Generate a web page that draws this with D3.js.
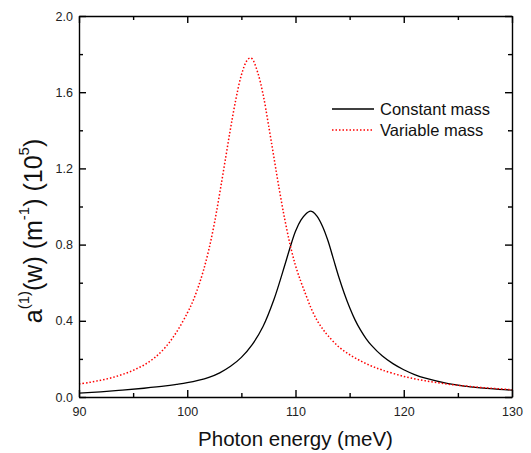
<!DOCTYPE html>
<html lang="en">
<head>
    <meta charset="UTF-8">
    <title>Absorption coefficient</title>
    <script src="https://cdn.jsdelivr.net/npm/d3@7/dist/d3.min.js"></script>
    <style>
        body { margin: 0; background: #fff; }
        text { font-family: "Liberation Sans", Arial, sans-serif; }
    </style>
</head>
<body>
    <svg id="chart" width="531" height="453"></svg>
    <script>
        // data
        var constE = [90, 92, 94, 96, 98, 99, 100, 101, 102, 103, 104, 105, 106, 107, 108, 109, 109.5, 110, 110.5, 111, 111.3, 111.6, 112, 112.5, 113, 113.5, 114, 114.5, 115, 115.5, 116, 116.5, 117, 118, 119, 120, 121, 122, 124, 126, 128, 130];
        var constA = [0.020, 0.027, 0.036, 0.046, 0.058, 0.066, 0.075, 0.087, 0.103, 0.127, 0.161, 0.208, 0.275, 0.37, 0.51, 0.69, 0.785, 0.87, 0.928, 0.963, 0.975, 0.972, 0.948, 0.895, 0.82, 0.725, 0.63, 0.545, 0.47, 0.405, 0.352, 0.308, 0.272, 0.216, 0.175, 0.143, 0.118, 0.099, 0.072, 0.055, 0.044, 0.036];

        var varE = [90, 91, 92, 93, 94, 95, 96, 97, 98, 99, 100, 100.5, 101, 101.5, 102, 102.5, 103, 103.5, 104, 104.5, 105, 105.5, 105.8, 106, 106.5, 107, 107.5, 108, 108.5, 109, 109.5, 110, 110.5, 111, 111.5, 112, 112.5, 113, 114, 115, 116, 117, 118, 120, 122, 124, 126, 128, 130];
        var varA = [0.068, 0.077, 0.088, 0.101, 0.118, 0.14, 0.168, 0.207, 0.262, 0.34, 0.44, 0.50, 0.575, 0.665, 0.775, 0.91, 1.07, 1.24, 1.41, 1.565, 1.69, 1.765, 1.78, 1.775, 1.705, 1.59, 1.43, 1.26, 1.09, 0.935, 0.80, 0.69, 0.605, 0.53, 0.458, 0.402, 0.358, 0.322, 0.263, 0.222, 0.19, 0.163, 0.142, 0.108, 0.085, 0.068, 0.056, 0.046, 0.038];

        var xMajor = [90, 100, 110, 120, 130];
        var xMinor = [95, 105, 115, 125];
        var yMajor = [0.0, 0.4, 0.8, 1.2, 1.6, 2.0];
        var yMinor = [0.2, 0.6, 1.0, 1.4, 1.8];
        var seriesNames = ["Constant mass", "Variable mass"];

        var svg = d3.select("#chart"),
            margin = { top: 16, right: 19, bottom: 56, left: 79 },
            width = +svg.attr("width") - margin.left - margin.right,
            height = +svg.attr("height") - margin.top - margin.bottom,
            g = svg.append("g").attr("transform", "translate(" + margin.left + "," + margin.top + ")");

        var x = d3.scaleLinear().domain([90, 130]).range([0, width]);
        var y = d3.scaleLinear().domain([0, 2.0]).range([height, 0]);

        var line = d3.line()
            .x(function (d) { return x(d[0]); })
            .y(function (d) { return y(d[1]); })
            .curve(d3.curveCatmullRom);

        var constData = constE.map(function (e, i) { return [e, constA[i]]; });
        var varData = varE.map(function (e, i) { return [e, varA[i]]; });

        // curves
        g.append("path")
            .datum(constData)
            .attr("fill", "none")
            .attr("stroke", "#000")
            .attr("stroke-width", 1.3)
            .attr("d", line);

        g.append("path")
            .datum(varData)
            .attr("fill", "none")
            .attr("stroke", "#ff0000")
            .attr("stroke-width", 1.5)
            .attr("stroke-dasharray", "1.5,2")
            .attr("d", line);

        // axes with inward ticks
        function styleAxis(sel) {
            sel.selectAll("path, line").attr("stroke", "#000").attr("stroke-width", 1.4);
            sel.selectAll("text").attr("font-size", "12.5px").attr("fill", "#222");
        }

        g.append("g").attr("transform", "translate(0," + height + ")")
            .call(d3.axisBottom(x).tickValues(xMajor).tickSizeInner(-7).tickSizeOuter(0).tickPadding(10).tickFormat(d3.format("d")))
            .call(styleAxis);
        g.append("g").attr("transform", "translate(0," + height + ")")
            .call(d3.axisBottom(x).tickValues(xMinor).tickSize(-4).tickFormat(""))
            .call(styleAxis).select(".domain").remove();

        g.append("g")
            .call(d3.axisTop(x).tickValues(xMajor).tickSizeInner(-7).tickSizeOuter(0).tickFormat(""))
            .call(styleAxis);
        g.append("g")
            .call(d3.axisTop(x).tickValues(xMinor).tickSize(-4).tickFormat(""))
            .call(styleAxis).select(".domain").remove();

        g.append("g")
            .call(d3.axisLeft(y).tickValues(yMajor).tickSizeInner(-7).tickSizeOuter(0).tickPadding(6).tickFormat(d3.format(".1f")))
            .call(styleAxis);
        g.append("g")
            .call(d3.axisLeft(y).tickValues(yMinor).tickSize(-4).tickFormat(""))
            .call(styleAxis).select(".domain").remove();

        g.append("g").attr("transform", "translate(" + width + ",0)")
            .call(d3.axisRight(y).tickValues(yMajor).tickSizeInner(-7).tickSizeOuter(0).tickFormat(""))
            .call(styleAxis);
        g.append("g").attr("transform", "translate(" + width + ",0)")
            .call(d3.axisRight(y).tickValues(yMinor).tickSize(-4).tickFormat(""))
            .call(styleAxis).select(".domain").remove();

        // axis titles
        svg.append("text")
            .attr("x", margin.left + width / 2)
            .attr("y", 446)
            .attr("text-anchor", "middle")
            .attr("font-size", "20.5px")
            .attr("fill", "#111")
            .text("Photon energy (meV)");

        var yt = svg.append("text")
            .attr("transform", "translate(42,231) rotate(-90)")
            .attr("text-anchor", "middle")
            .attr("font-size", "25px")
            .attr("fill", "#111");
        yt.append("tspan").text("a");
        yt.append("tspan").attr("font-size", "15px").attr("dy", "-13").text("(1)");
        yt.append("tspan").attr("dy", "13").text("(w) (m");
        yt.append("tspan").attr("font-size", "15px").attr("dy", "-13").text("-1");
        yt.append("tspan").attr("dy", "13").text(") (10");
        yt.append("tspan").attr("font-size", "15px").attr("dy", "-13").text("5");
        yt.append("tspan").attr("dy", "13").text(")");

        // legend
        var legend = svg.append("g").attr("transform", "translate(332,109)");
        var styles = [
            { stroke: "#000", dash: null, w: 1.3 },
            { stroke: "#ff0000", dash: "1.5,2", w: 1.5 }
        ];
        seriesNames.forEach(function (name, i) {
            var row = legend.append("g").attr("transform", "translate(0," + i * 21 + ")");
            row.append("line")
                .attr("x1", 0).attr("x2", 42)
                .attr("stroke", styles[i].stroke)
                .attr("stroke-width", styles[i].w)
                .attr("stroke-dasharray", styles[i].dash);
            row.append("text")
                .attr("x", 48)
                .attr("dy", "0.36em")
                .attr("font-size", "16.5px")
                .attr("fill", "#111")
                .text(name);
        });
    </script>
</body>
</html>
